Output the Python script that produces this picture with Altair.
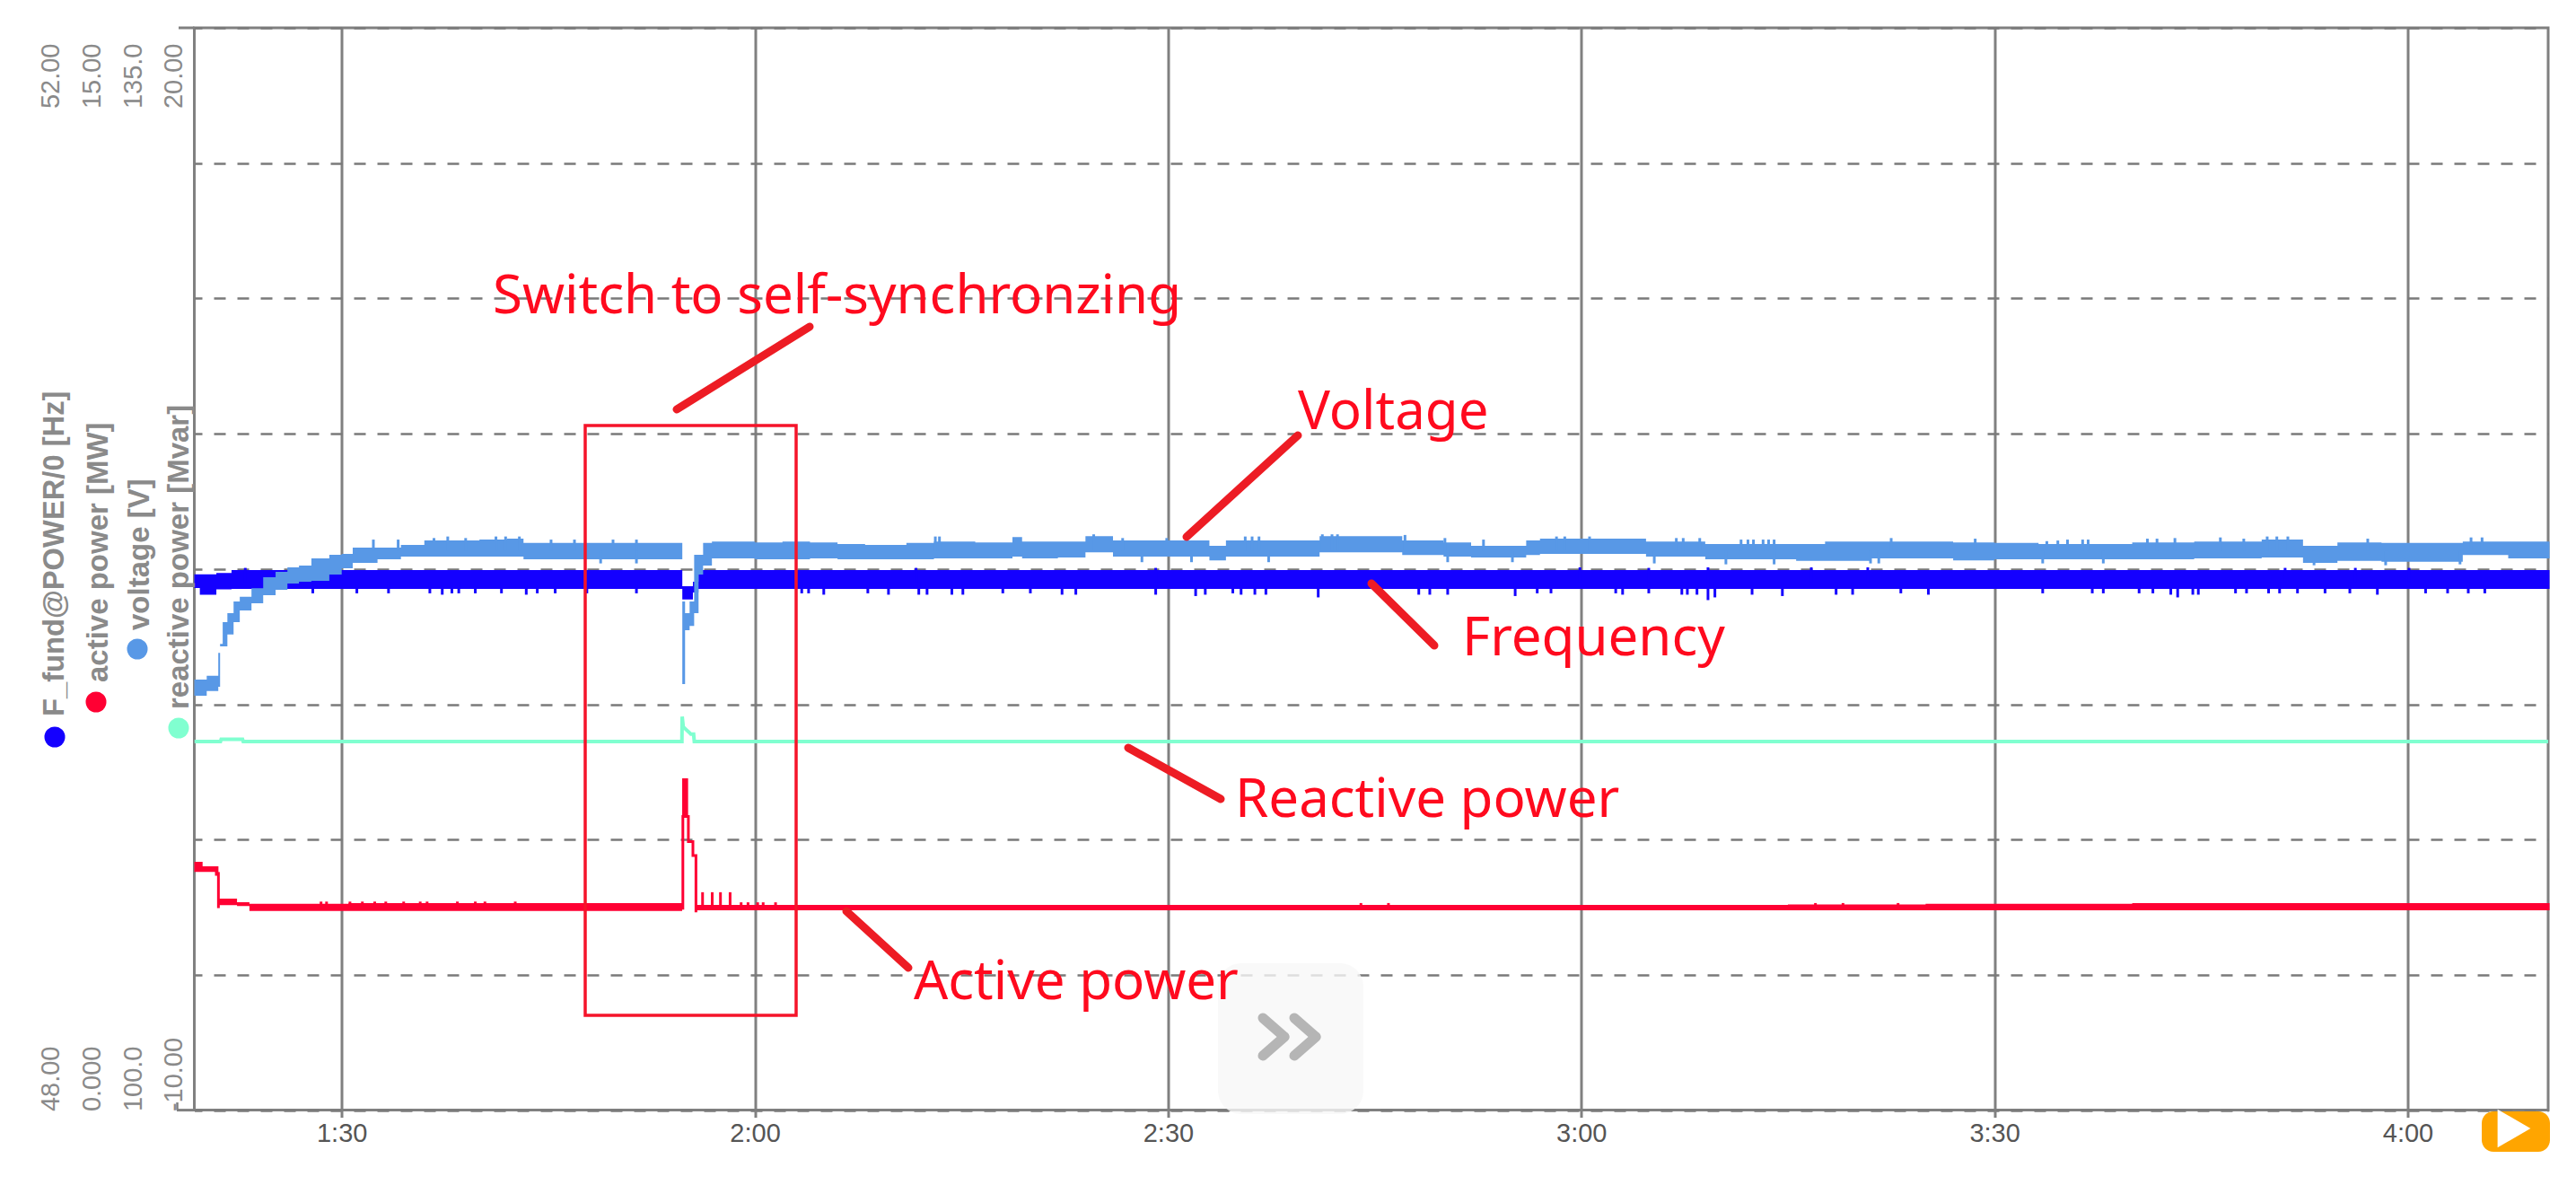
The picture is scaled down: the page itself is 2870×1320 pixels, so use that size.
import altair as alt
import pandas as pd

# seconds on the time axis, values in each series' own unit
time_ticks = [90, 120, 150, 180, 210, 240]
time_domain = [79.3, 250.2]

freq_ticks = [48, 48.5, 49, 49.5, 50, 50.5, 51, 51.5, 52]

freq_t = [79.3, 79.7, 80.9, 82.0, 114.73, 115.5, 115.9, 250.3]
freq_hi = [49.98, 49.98, 49.985, 49.996, 49.936, 49.953, 49.996, 49.996]
freq_lo = [49.93, 49.905, 49.925, 49.926, 49.887, 49.913, 49.926, 49.926]

freq_down_t = [87.9, 91.1, 93.4, 96.4, 97.3, 98.0, 98.5, 99.7, 101.6, 103.4, 104.2, 105.5, 107.8, 111.4,
               123.4, 123.9, 125.0, 128.2, 129.7, 131.9, 132.5, 134.3, 135.1, 138.0, 140.0, 142.3, 143.3,
               149.1, 152.0, 152.7, 154.7, 155.3, 156.3, 157.1, 160.9, 168.2, 169.0, 170.3, 175.2, 176.8,
               177.8, 182.5, 183.0, 184.9, 187.3, 187.7, 188.4, 189.2, 189.7, 192.4, 194.6, 198.5, 199.7,
               203.2, 205.2, 213.5, 217.1, 217.9, 220.5, 221.5, 222.8, 223.3, 224.4, 224.8, 227.5, 228.3,
               229.9, 230.7, 232.0, 234.0, 235.8, 237.8, 241.3, 242.9, 244.4, 245.6]
freq_down_v = [49.91, 49.91, 49.91, 49.91, 49.905, 49.91, 49.91, 49.91, 49.91, 49.905, 49.91, 49.91, 49.91, 49.91,
               49.91, 49.91, 49.905, 49.91, 49.905, 49.905, 49.905, 49.905, 49.905, 49.91, 49.91, 49.905, 49.905,
               49.905, 49.9, 49.905, 49.91, 49.905, 49.905, 49.905, 49.895, 49.905, 49.905, 49.905, 49.9, 49.91,
               49.91, 49.91, 49.905, 49.91, 49.905, 49.905, 49.905, 49.885, 49.895, 49.905, 49.9, 49.905, 49.905,
               49.91, 49.905, 49.91, 49.91, 49.91, 49.91, 49.91, 49.905, 49.895, 49.905, 49.905, 49.91, 49.91,
               49.91, 49.91, 49.91, 49.91, 49.91, 49.905, 49.91, 49.91, 49.91, 49.91]

freq_up_t = [83.0, 131.7, 149.1, 179.9, 184.9, 189.2, 196.7, 200.8, 231.1, 236.2, 240.1]
freq_up_v = [50.004, 50.004, 50.004, 50.006, 50.004, 50.006, 50.006, 50.006, 50.004, 50.004, 50.004]

volt_t = [79.3, 80.2, 81.04, 81.17, 81.36, 81.7, 82.15, 82.6, 83.45, 84.3, 85.2, 86.06, 86.9, 87.8, 89.1, 90.0,
          90.8, 92.6, 94.3, 96.0, 100.0,
          102.0, 103.2, 114.73, 114.93, 115.26, 115.59, 115.91, 116.24, 116.88, 120.0, 122.0, 124.0, 126.0,
          128.0, 131.0, 133.0, 136.0, 138.7, 139.4, 142.0, 144.0, 146.0, 151.0, 153.0, 154.2, 161.0, 167.0,
          170.0, 172.0, 176.0, 177.0, 184.7, 189.0, 195.6, 197.7, 201.0, 207.0, 210.0, 213.2, 220.0, 224.5,
          229.4, 232.4, 234.9, 238.1, 244.0, 247.3, 250.3]
volt_hi = [113.92, 114.05, 114.79, 115.08, 115.78, 116.07, 116.45, 116.60, 116.88, 117.23, 117.41, 117.55, 117.61,
           117.84, 117.96, 117.99, 118.19, 118.19, 118.28, 118.42, 118.45, 118.48, 118.34, 116.45, 116.07, 116.45,
           117.96, 117.96, 118.34, 118.39, 118.36,
           118.39, 118.36, 118.31, 118.28, 118.34, 118.39, 118.36, 118.53, 118.39, 118.39, 118.56, 118.42, 118.42,
           118.25, 118.42, 118.56, 118.42, 118.36, 118.25, 118.42, 118.48, 118.39, 118.31, 118.31, 118.39, 118.39,
           118.36, 118.34, 118.31, 118.36, 118.39, 118.45, 118.25, 118.36, 118.34, 118.39, 118.39, 118.39]
volt_lo = [113.40, 113.55, 113.69, 115.00, 115.00, 115.38, 115.78, 116.16, 116.39, 116.65, 116.83, 117.03, 117.09,
           117.12, 117.32, 117.52, 117.70, 117.81, 117.90, 117.90, 117.90, 117.90, 117.81, 113.78, 115.52, 115.66,
           116.07, 117.32, 117.61, 117.84, 117.81,
           117.81, 117.84, 117.81, 117.81, 117.81, 117.84, 117.84, 117.90, 117.84, 117.87, 118.04, 117.90, 117.90,
           117.78, 117.90, 118.04, 117.95, 117.90, 117.87, 117.95, 117.99, 117.90, 117.81, 117.76, 117.76, 117.84,
           117.78, 117.81, 117.81, 117.81, 117.84, 117.87, 117.70, 117.76, 117.73, 117.95, 117.84, 117.84]

volt_up_t = [92.3, 94.1, 96.7, 97.7, 99.0, 101.2, 101.9, 102.9, 105.2, 106.9, 109.7, 111.4, 133.1, 133.4, 144.6,
             146.7, 149.9, 155.6, 156.1, 156.6, 161.2, 161.9, 162.3, 167.2, 170.1, 172.9, 178.2, 178.8, 180.6,
             186.9, 187.4, 188.6, 191.6, 192.1, 192.5, 193.2, 193.6, 194.0, 202.5, 208.6, 213.8, 214.6, 215.3,
             216.4, 216.8, 221.1, 221.8, 223.1, 226.4, 228.1, 229.8, 230.5, 231.3, 237.1, 244.6, 245.4]
volt_up_v = [118.45, 118.45, 118.5, 118.55, 118.5, 118.55, 118.55, 118.55, 118.45, 118.45, 118.45, 118.45, 118.55, 118.55, 118.62,
             118.5, 118.5, 118.55, 118.55, 118.55, 118.62, 118.62, 118.62, 118.6, 118.5, 118.45, 118.55, 118.55, 118.55,
             118.5, 118.5, 118.5, 118.45, 118.45, 118.45, 118.45, 118.45, 118.45, 118.5, 118.48, 118.4, 118.42, 118.45,
             118.45, 118.45, 118.48, 118.48, 118.5, 118.52, 118.48, 118.55, 118.55, 118.55, 118.48, 118.52, 118.52]

volt_down_t = [108.8, 111.4, 148.1, 151.7, 157.3, 170.3, 175.0, 185.3, 190.5, 194.0, 201.0, 201.6, 213.5, 217.9, 233.2, 238.4, 243.8]
volt_down_v = [117.68, 117.68, 117.72, 117.72, 117.72, 117.72, 117.72, 117.68, 117.65, 117.65, 117.68, 117.68, 117.68, 117.68, 117.62, 117.62, 117.65]

power_t = [79.3, 79.9, 80.8, 81.05, 82.4, 83.3, 90.5, 114.72, 115.15, 115.72, 195.0, 205.0, 220.0, 250.3]
power_hi = [3.44, 3.38, 3.38, 2.93, 2.88, 2.86, 2.87, 4.60, 2.77, 2.845, 2.85, 2.86, 2.87, 2.87]
power_lo = [3.30, 3.30, 3.25, 2.84, 2.83, 2.76, 2.76, 4.07, 2.77, 2.77, 2.77, 2.77, 2.77, 2.77]

power_peak_t = [114.77, 114.77, 115.17, 115.17, 115.50, 115.50, 115.72, 115.72]
power_peak_v = [2.78, 4.07, 4.07, 3.72, 3.72, 3.53, 3.53, 2.74]

power_blip_t = [81.05, 88.5, 88.9, 90.6, 91.5, 92.4, 93.2, 94.5, 95.7, 96.2, 98.4, 99.7, 100.4, 102.6, 116.2, 116.9, 117.5, 118.2,
                119.0, 119.5, 120.2, 120.6, 121.5, 164.0, 166.0, 197.0, 199.0, 203.0]
power_blip_v = [3.30, 2.89, 2.89, 2.89, 2.89, 2.89, 2.89, 2.89, 2.89, 2.89, 2.89, 2.89, 2.89, 2.89, 3.02, 3.02, 3.02, 3.02,
                2.88, 2.88, 2.88, 2.88, 2.88, 2.87, 2.87, 2.87, 2.87, 2.87]

react_t = [79.3, 81.2, 81.25, 82.8, 82.85, 114.70, 114.72, 114.80, 115.0, 115.2, 115.35, 115.55, 115.6, 250.3]
react_v = [0.22, 0.22, 0.28, 0.28, 0.22, 0.22, 0.91, 0.62, 0.55, 0.48, 0.42, 0.42, 0.22, 0.22]

legend_names = ["F_fund@POWER/0 [Hz]", "active power [MW]", "voltage [V]", "reactive power [Mvar]"]
legend_colors = ["#1400FF", "#FF0033", "#5898E6", "#80FFD0"]

GRAY = "#808080"
RED = "#ED1C24"
TEXT_RED = "#FF0A1E"
LEFT = 216.5
TOP = 31


def sx(v):
    return v - LEFT


def sy(v):
    return v - TOP


x_scale = alt.Scale(domain=time_domain, nice=False, zero=False)
x_axis = alt.Axis(
    values=time_ticks, title=None, domain=False, grid=True, gridColor=GRAY, gridWidth=3, gridOpacity=1,
    tickColor=GRAY, tickWidth=3, tickSize=8, labelFont="Liberation Sans", labelFontSize=29, labelColor="#555555",
    labelPadding=4, labelExpr="floor(datum.value/60)+':'+(datum.value%60==0?'00':'30')")
x_plain = alt.X("t:Q", scale=x_scale, axis=x_axis)


def y_axis(values, offset, top_text, bottom_text, grid=False):
    top, bottom = max(values), min(values)
    return alt.Axis(
        values=values, orient="left", offset=offset, domain=False, ticks=False, grid=grid,
        gridColor="#7a7a7a", gridDash=[13, 13], gridDashOffset=4.5, gridWidth=2.6, gridOpacity=1,
        title=None, labelFont="Liberation Sans", labelFontSize=29, labelColor="#8a8a8a",
        labelAngle=270, labelBaseline="middle", labelPadding=0, labelOverlap=False, labelBound=False, labelFlush=False,
        labelExpr=f"datum.value=={top}?'{top_text}':datum.value=={bottom}?'{bottom_text}':''",
        labelAlign={"condition": {"test": f"datum.value=={top}", "value": "right"}, "value": "left"},
        labelOffset={"condition": {"test": f"datum.value=={top}", "value": 17}, "value": 1},
    )


def band(t, hi, lo, color, domain, axis):
    df = pd.DataFrame({"t": t, "hi": hi, "lo": lo})
    return alt.Chart(df).mark_area(color=color, interpolate="step-after", opacity=1).encode(
        x=x_plain,
        y=alt.Y("hi:Q", scale=alt.Scale(domain=domain, nice=False, zero=False), axis=axis),
        y2="lo:Q",
    )


def spikes(t, v, base, color, domain):
    df = pd.DataFrame({"t": t, "v": v, "base": [base] * len(t)})
    return alt.Chart(df).mark_rule(color=color, strokeWidth=3).encode(
        x=x_plain,
        y=alt.Y("v:Q", scale=alt.Scale(domain=domain, nice=False, zero=False), axis=None),
        y2="base:Q",
    )


def trace(t, v, color, domain, axis, width):
    df = pd.DataFrame({"t": t, "v": v, "order": list(range(len(t)))})
    return alt.Chart(df).mark_line(color=color, strokeWidth=width, clip=True).encode(
        x=x_plain,
        y=alt.Y("v:Q", scale=alt.Scale(domain=domain, nice=False, zero=False), axis=axis),
        order="order:Q",
    )


def seg(x1, y1, x2, y2, color=RED, width=9, cap="round"):
    return alt.Chart(alt.Data(values=[{}])).mark_rule(color=color, strokeWidth=width, strokeCap=cap).encode(
        x=alt.value(sx(x1)), y=alt.value(sy(y1)), x2=alt.value(sx(x2)), y2=alt.value(sy(y2)))


def label(text, x, y, size=60, color=TEXT_RED, font="Noto Sans", weight="normal", angle=0):
    return alt.Chart(alt.Data(values=[{}])).mark_text(
        text=text, font=font, fontSize=size, color=color, fontWeight=weight, align="left",
        baseline="middle", angle=angle,
    ).encode(x=alt.value(sx(x)), y=alt.value(sy(y)))


def dot(x, y, color):
    return alt.Chart(alt.Data(values=[{}])).mark_circle(color=color, size=530, opacity=1).encode(
        x=alt.value(sx(x)), y=alt.value(sy(y)))


def box(x1, y1, x2, y2, **kw):
    return alt.Chart(alt.Data(values=[{}])).mark_rect(**kw).encode(
        x=alt.value(sx(x1)), y=alt.value(sy(y1)), x2=alt.value(sx(x2)), y2=alt.value(sy(y2)))


freq_domain = [48, 52]
power_domain = [0, 15]
volt_domain = [100, 135]
react_domain = [-10, 20]

layers = [
    band(freq_t, freq_hi, freq_lo, legend_colors[0], freq_domain, y_axis(freq_ticks, 160.5, "52.00", "48.00", grid=True)),
    spikes(freq_down_t, freq_down_v, 49.95, legend_colors[0], freq_domain),
    spikes(freq_up_t, freq_up_v, 49.95, legend_colors[0], freq_domain),
    band(power_t, power_hi, power_lo, legend_colors[1], power_domain, y_axis([0, 15], 114.5, "15.00", "0.000")),
    spikes(power_blip_t, power_blip_v, 2.8, legend_colors[1], power_domain),
    trace(power_peak_t, power_peak_v, legend_colors[1], power_domain, None, 3),
    band(volt_t, volt_hi, volt_lo, legend_colors[2], volt_domain, y_axis([100, 135], 68.5, "135.0", "100.0")),
    spikes(volt_up_t, volt_up_v, 118.1, legend_colors[2], volt_domain),
    spikes(volt_down_t, volt_down_v, 118.1, legend_colors[2], volt_domain),
    trace(react_t, react_v, legend_colors[3], react_domain, y_axis([-10, 20], 23.5, "20.00", "-10.00"), 4),
    # frame stubs left of the plot
    seg(199, 31, 216.5, 31, GRAY, 3, "butt"),
    seg(197, 1236.6, 216.5, 1236.6, GRAY, 3, "butt"),
    seg(197.5, 1228, 197.5, 1236.6, GRAY, 2.5, "butt"),
    # legend, rotated along the left edge
    dot(61, 821, legend_colors[0]), label(legend_names[0], 61, 798, 32.7, "#8a8a8a", "Liberation Sans", "bold", 270),
    dot(107, 782, legend_colors[1]), label(legend_names[1], 110, 760, 33, "#8a8a8a", "Liberation Sans", "bold", 270),
    dot(153, 723, legend_colors[2]), label(legend_names[2], 156, 702, 33, "#8a8a8a", "Liberation Sans", "bold", 270),
    dot(199, 811, legend_colors[3]), label(legend_names[3], 200, 790, 33, "#8a8a8a", "Liberation Sans", "bold", 270),
    # overlay badge and play button of the viewer
    box(1357, 1073, 1519, 1241, fill="#F8F8F8", opacity=0.8, cornerRadius=26),
    seg(1407, 1134, 1431, 1155, "#B5B5B5", 11), seg(1431, 1155, 1407, 1176, "#B5B5B5", 11),
    seg(1442, 1134, 1466, 1155, "#B5B5B5", 11), seg(1466, 1155, 1442, 1176, "#B5B5B5", 11),
    box(2765, 1238, 2841, 1283, fill="#FFA500", cornerRadius=13),
    alt.Chart(alt.Data(values=[{}])).mark_point(shape="triangle-right", filled=True, color="white", opacity=1, size=1800).encode(
        x=alt.value(sx(2801)), y=alt.value(sy(1257))),
    # hand drawn annotations
    box(652, 474, 887, 1131, fill="white", fillOpacity=0, stroke="#F5142A", strokeWidth=3.5),
    seg(754, 456, 902, 364), seg(1322, 598, 1446, 485), seg(1528, 650, 1598, 719),
    seg(1257, 833, 1360, 890), seg(943, 1015, 1012, 1078),
    label("Switch to self-synchronzing", 549, 331),
    label("Voltage", 1446, 460),
    label("Frequency", 1629, 712),
    label("Reactive power", 1376, 892),
    label("Active power", 1018, 1095),
]

chart = alt.layer(*layers).resolve_scale(y="independent").resolve_axis(y="independent").properties(
    width=2622.5,
    height=1205.6,
    autosize=alt.AutoSizeParams(type="none"),
    padding={"left": 208.5, "top": 23, "right": 22, "bottom": 70},
    background="white",
).configure_view(stroke=GRAY, strokeWidth=3)

chart.save("out.html", embed_options={"renderer": "svg", "actions": False})
